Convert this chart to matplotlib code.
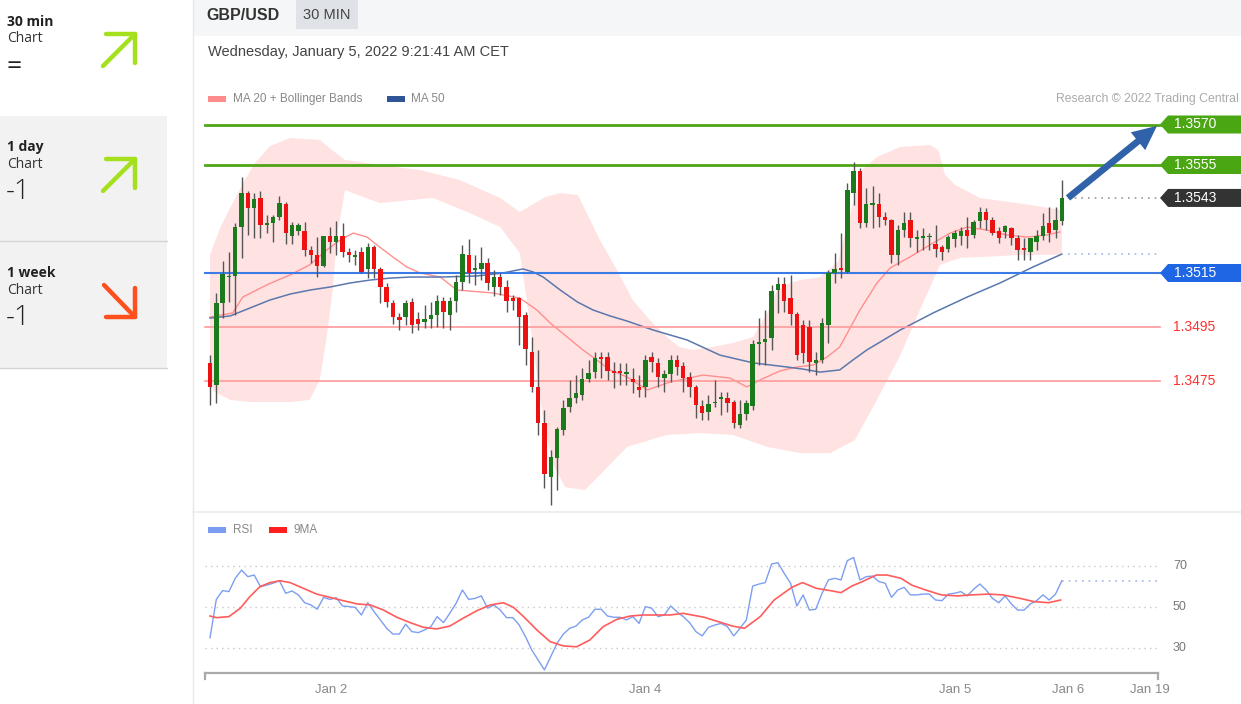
import numpy as np
import matplotlib.pyplot as plt
from matplotlib.patches import Polygon, Rectangle

plt.rcParams['font.family'] = ['Liberation Sans', 'DejaVu Sans']

W, H = 1241, 704
X0, PX = 210, 6.31   # pixel x of first candle, pixels per 30-min candle

# ---- GBP/USD 30 min candles ----
opens = [1.34817, 1.34735, 1.35039, 1.35135, 1.35139, 1.35320, 1.35446, 1.35391, 1.35428, 1.35328,
         1.35335, 1.35357, 1.35406, 1.35287, 1.35306, 1.35306, 1.35235, 1.35217, 1.35176, 1.35287,
         1.35265, 1.35287, 1.35228, 1.35209, 1.35228, 1.35165, 1.35246, 1.35165, 1.35098, 1.35039,
         1.34987, 1.34987, 1.35043, 1.34980, 1.34969, 1.34980, 1.34994, 1.35046, 1.34994, 1.35046,
         1.35117, 1.35217, 1.35161, 1.35165, 1.35187, 1.35098, 1.35135, 1.35098, 1.35057, 1.35057,
         1.34994, 1.34857, 1.34728, 1.34594, 1.34394, 1.34465, 1.34569, 1.34654, 1.34687, 1.34698,
         1.34757, 1.34783, 1.34839, 1.34839, 1.34787, 1.34787, 1.34776, 1.34757, 1.34728, 1.34728,
         1.34839, 1.34817, 1.34761, 1.34776, 1.34828, 1.34806, 1.34765, 1.34728, 1.34657, 1.34635,
         1.34669, 1.34683, 1.34687, 1.34672, 1.34587, 1.34628, 1.34657, 1.34887, 1.34894, 1.34909,
         1.35087, 1.35109, 1.35057, 1.34998, 1.34957, 1.34950, 1.34817, 1.34828, 1.34957, 1.35150,
         1.35169, 1.35154, 1.35446, 1.35528, 1.35335, 1.35402, 1.35406, 1.35357, 1.35346, 1.35217,
         1.35309, 1.35346, 1.35276, 1.35280, 1.35283, 1.35257, 1.35246, 1.35239, 1.35276, 1.35287,
         1.35309, 1.35291, 1.35343, 1.35376, 1.35346, 1.35306, 1.35302, 1.35317, 1.35280, 1.35243,
         1.35228, 1.35265, 1.35287, 1.35335, 1.35309, 1.35343]
highs = [1.34846, 1.35076, 1.35194, 1.35228, 1.35335, 1.35506, 1.35454, 1.35446, 1.35454, 1.35365,
         1.35365, 1.35435, 1.35413, 1.35339, 1.35335, 1.35339, 1.35250, 1.35283, 1.35287, 1.35320,
         1.35343, 1.35335, 1.35243, 1.35235, 1.35246, 1.35261, 1.35254, 1.35172, 1.35113, 1.35050,
         1.35002, 1.35050, 1.35057, 1.35006, 1.35031, 1.35043, 1.35069, 1.35061, 1.35061, 1.35143,
         1.35254, 1.35276, 1.35217, 1.35246, 1.35206, 1.35161, 1.35150, 1.35124, 1.35069, 1.35061,
         1.35006, 1.34913, 1.34865, 1.34643, 1.34494, 1.34580, 1.34680, 1.34754, 1.34772, 1.34798,
         1.34828, 1.34857, 1.34857, 1.34857, 1.34820, 1.34817, 1.34817, 1.34798, 1.34772, 1.34846,
         1.34857, 1.34835, 1.34791, 1.34846, 1.34846, 1.34820, 1.34783, 1.34735, 1.34680, 1.34698,
         1.34754, 1.34709, 1.34709, 1.34680, 1.34680, 1.34680, 1.34902, 1.34983, 1.35013, 1.35106,
         1.35135, 1.35135, 1.35143, 1.35006, 1.34976, 1.34976, 1.34857, 1.34983, 1.35161, 1.35224,
         1.35298, 1.35483, 1.35561, 1.35539, 1.35465, 1.35472, 1.35446, 1.35376, 1.35350, 1.35328,
         1.35376, 1.35376, 1.35309, 1.35317, 1.35298, 1.35328, 1.35254, 1.35291, 1.35309, 1.35320,
         1.35357, 1.35346, 1.35394, 1.35391, 1.35357, 1.35320, 1.35328, 1.35320, 1.35291, 1.35280,
         1.35280, 1.35309, 1.35372, 1.35394, 1.35394, 1.35494]
lows = [1.34661, 1.34669, 1.34983, 1.35043, 1.34994, 1.35206, 1.35291, 1.35280, 1.35280, 1.35298,
        1.35265, 1.35346, 1.35257, 1.35257, 1.35291, 1.35213, 1.35187, 1.35135, 1.35172, 1.35224,
        1.35217, 1.35209, 1.35191, 1.35180, 1.35150, 1.35131, 1.35131, 1.35039, 1.35024, 1.34961,
        1.34939, 1.34957, 1.34928, 1.34939, 1.34946, 1.34946, 1.34950, 1.34946, 1.34939, 1.35006,
        1.35087, 1.35113, 1.35106, 1.35124, 1.35087, 1.35065, 1.35069, 1.35006, 1.35013, 1.34883,
        1.34809, 1.34709, 1.34550, 1.34354, 1.34291, 1.34346, 1.34550, 1.34635, 1.34669, 1.34680,
        1.34746, 1.34761, 1.34761, 1.34754, 1.34724, 1.34735, 1.34735, 1.34706, 1.34691, 1.34691,
        1.34783, 1.34728, 1.34709, 1.34746, 1.34772, 1.34709, 1.34691, 1.34613, 1.34606, 1.34606,
        1.34654, 1.34624, 1.34635, 1.34576, 1.34576, 1.34606, 1.34643, 1.34809, 1.34809, 1.34865,
        1.35002, 1.35006, 1.34957, 1.34828, 1.34817, 1.34783, 1.34772, 1.34817, 1.34891, 1.35113,
        1.35131, 1.35150, 1.35402, 1.35317, 1.35320, 1.35317, 1.35320, 1.35328, 1.35187, 1.35180,
        1.35283, 1.35246, 1.35228, 1.35235, 1.35235, 1.35209, 1.35198, 1.35228, 1.35246, 1.35254,
        1.35243, 1.35280, 1.35317, 1.35309, 1.35291, 1.35261, 1.35280, 1.35254, 1.35198, 1.35198,
        1.35198, 1.35235, 1.35272, 1.35265, 1.35280, 1.35328]
closes = [1.34728, 1.35039, 1.35146, 1.35139, 1.35320, 1.35446, 1.35391, 1.35424, 1.35328, 1.35335,
          1.35357, 1.35409, 1.35298, 1.35328, 1.35328, 1.35235, 1.35217, 1.35176, 1.35287, 1.35265,
          1.35287, 1.35228, 1.35217, 1.35217, 1.35154, 1.35246, 1.35165, 1.35098, 1.35043, 1.34987,
          1.34976, 1.35039, 1.34957, 1.34961, 1.34980, 1.34994, 1.35046, 1.35006, 1.35046, 1.35117,
          1.35220, 1.35150, 1.35169, 1.35187, 1.35113, 1.35135, 1.35098, 1.35046, 1.35046, 1.34987,
          1.34869, 1.34728, 1.34594, 1.34406, 1.34469, 1.34572, 1.34650, 1.34687, 1.34706, 1.34757,
          1.34780, 1.34835, 1.34831, 1.34787, 1.34780, 1.34780, 1.34783, 1.34746, 1.34717, 1.34828,
          1.34820, 1.34765, 1.34776, 1.34828, 1.34802, 1.34761, 1.34728, 1.34661, 1.34631, 1.34665,
          1.34672, 1.34691, 1.34669, 1.34594, 1.34628, 1.34669, 1.34887, 1.34894, 1.34906, 1.35083,
          1.35109, 1.35046, 1.34998, 1.34846, 1.34854, 1.34820, 1.34828, 1.34965, 1.35150, 1.35165,
          1.35161, 1.35457, 1.35528, 1.35335, 1.35406, 1.35409, 1.35357, 1.35346, 1.35217, 1.35309,
          1.35335, 1.35280, 1.35283, 1.35287, 1.35287, 1.35239, 1.35228, 1.35283, 1.35298, 1.35306,
          1.35287, 1.35339, 1.35376, 1.35346, 1.35298, 1.35280, 1.35324, 1.35280, 1.35235, 1.35235,
          1.35280, 1.35287, 1.35324, 1.35298, 1.35346, 1.35428]

# moving averages (candle index, price)
ma20_x = [0, 3.6, 5.2, 9.0, 12.7, 15.8, 18.5, 20.6, 22.7, 24.9, 26.9, 29.0, 31.2, 33.3, 36.5, 39.1,
          44.8, 49.1, 51.8, 53.9, 56.6, 59.1, 61.3, 63.4, 66.1, 69.3, 72.9, 78.1, 82.4, 85.1, 87.2,
          90.3, 93.0, 95.6, 97.8, 99.8, 103.0, 105.7, 107.8, 110.9, 114.1, 117.3, 120.0, 123.1, 126.3,
          129.5, 132.6, 134.7]
ma20 = [1.34987, 1.35002, 1.35061, 1.35106, 1.35143, 1.35180, 1.35235, 1.35272, 1.35298, 1.35283,
        1.35246, 1.35209, 1.35172, 1.35150, 1.35135, 1.35087, 1.35076, 1.35057, 1.35013, 1.34965,
        1.34913, 1.34865, 1.34828, 1.34791, 1.34765, 1.34717, 1.34746, 1.34772, 1.34761, 1.34728,
        1.34754, 1.34787, 1.34802, 1.34809, 1.34839, 1.34876, 1.35013, 1.35113, 1.35169, 1.35209,
        1.35254, 1.35298, 1.35320, 1.35309, 1.35291, 1.35283, 1.35291, 1.35302]
ma50_x = [0, 3.2, 6.3, 9.5, 12.7, 15.9, 19.0, 22.2, 25.4, 28.5, 31.7, 36.5, 42.3, 46.4, 49.6, 51.2,
          52.8, 55.5, 58.2, 60.7, 63.4, 66.1, 70.2, 75.6, 80.8, 86.1, 91.4, 94.0, 96.7, 99.8, 101.9,
          104.1, 109.4, 114.6, 120.0, 125.2, 130.4, 135.0]
ma50 = [1.34983, 1.34991, 1.35020, 1.35050, 1.35072, 1.35087, 1.35098, 1.35113, 1.35124, 1.35131,
        1.35135, 1.35135, 1.35139, 1.35150, 1.35165, 1.35154, 1.35135, 1.35087, 1.35043, 1.35013,
        1.34991, 1.34972, 1.34939, 1.34902, 1.34846, 1.34817, 1.34802, 1.34794, 1.34783, 1.34791,
        1.34828, 1.34865, 1.34939, 1.35002, 1.35061, 1.35113, 1.35172, 1.35220]

# shaded Bollinger envelope as drawn: top and bottom outline
band_top_x = [0.0, 1.6, 3.6, 5.5, 7.1, 9.5, 12.7, 17.4, 19.3, 21.4, 26.9, 33.3, 39.6, 46.0, 49.1,
              51.5, 53.1, 55.5, 58.3, 59.7, 61.8, 64.5, 67.0, 69.7, 72.4, 74.4, 76.5, 79.7, 82.9,
              86.1, 88.3, 89.9, 91.9, 93.5, 96.7, 99.5, 101.4, 103.3, 105.7, 109.4, 114.1, 115.4,
              116.5, 118.1, 122.0, 130.0, 135.0]
band_top = [1.35217, 1.35317, 1.35409, 1.35494, 1.35557, 1.35620, 1.35650, 1.35643, 1.35606, 1.35569,
            1.35550, 1.35531, 1.35494, 1.35428, 1.35376, 1.35409, 1.35431, 1.35446, 1.35439, 1.35372,
            1.35272, 1.35161, 1.35050, 1.34976, 1.34913, 1.34876, 1.34865, 1.34876, 1.34891, 1.34913,
            1.35002, 1.35087, 1.35113, 1.35124, 1.35135, 1.35191, 1.35365, 1.35531, 1.35580, 1.35617,
            1.35624, 1.35606, 1.35513, 1.35476, 1.35428, 1.35402, 1.35383]
band_bot_x = [0.0, 0.8, 3.2, 6.3, 12.7, 15.8, 17.4, 18.5, 19.5, 20.1, 21.4, 26.9, 35.3, 41.2, 46.0,
              49.1, 50.2, 51.5, 52.8, 54.4, 56.3, 59.4, 61.8, 66.1, 72.4, 77.7, 82.9, 88.3, 93.5,
              98.3, 102.2, 105.7, 109.4, 112.5, 115.7, 118.9, 122.0, 128.4, 135.0]
band_bot = [1.34735, 1.34709, 1.34680, 1.34672, 1.34672, 1.34680, 1.34754, 1.34913, 1.35098, 1.35283,
            1.35457, 1.35409, 1.35428, 1.35372, 1.35320, 1.35224, 1.35050, 1.34828, 1.34606, 1.34439,
            1.34357, 1.34346, 1.34402, 1.34506, 1.34550, 1.34557, 1.34550, 1.34506, 1.34483, 1.34483,
            1.34531, 1.34680, 1.34846, 1.35013, 1.35180, 1.35206, 1.35209, 1.35217, 1.35217]

# RSI (one value per candle) and its 9-period MA
rsi = [35.0, 53.7, 58.0, 57.5, 64.0, 68.0, 64.8, 65.6, 59.9, 60.7, 61.6, 62.8, 56.7, 57.8, 55.9, 52.1,
       51.0, 48.9, 54.7, 53.7, 54.5, 50.5, 50.2, 49.8, 46.1, 52.1, 47.7, 43.7, 39.6, 36.8, 36.8, 41.6,
       38.0, 37.5, 38.8, 40.4, 45.3, 42.4, 46.9, 51.8, 58.3, 53.7, 54.2, 55.4, 49.4, 51.0, 48.5, 44.8,
       44.8, 41.2, 35.5, 29.0, 24.1, 19.3, 25.8, 32.3, 36.8, 39.6, 40.7, 43.7, 45.0, 48.9, 48.9, 45.6,
       45.0, 45.0, 43.7, 45.3, 42.0, 50.2, 49.4, 45.3, 46.1, 50.5, 47.7, 45.3, 42.4, 38.0, 35.9, 40.1,
       41.2, 42.0, 40.4, 35.9, 39.6, 43.7, 60.2, 61.2, 61.9, 71.0, 71.6, 66.4, 61.6, 50.5, 55.9, 48.5,
       48.9, 56.7, 63.2, 64.0, 63.2, 72.6, 74.2, 63.2, 64.8, 65.1, 62.4, 61.6, 54.7, 58.3, 59.6, 55.9,
       55.9, 56.3, 56.3, 53.4, 53.1, 56.3, 56.7, 57.5, 55.4, 58.6, 61.2, 58.3, 54.2, 52.1, 55.4, 51.5,
       48.5, 48.5, 51.5, 53.1, 55.9, 53.4, 56.3, 62.8]
ma9_x = [0, 1, 3, 4.8, 6.3, 7.9, 9.5, 11.1, 12.7, 14.8, 16.9, 19.0, 21.1, 23.3, 25.4, 27.5, 29.6, 31.7,
         33.8, 35.9, 38.0, 40.1, 42.3, 44.4, 46.5, 48.1, 49.7, 51.8, 53.9, 56.0, 58.1, 60.2, 62.3,
         64.5, 66.6, 68.7, 70.8, 72.9, 75.0, 78.3, 80.5, 82.8, 84.7, 87.2, 89.4, 92.2, 93.9, 96.1,
         98.3, 100.0, 101.7, 103.4, 105.6, 107.3, 109.5, 111.2, 113.4, 115.9, 118.4, 120.6, 123.4,
         125.6, 128.4, 130.6, 132.9, 134.8]
ma9 = [45.6, 44.8, 45.3, 49.4, 55.0, 59.9, 61.9, 62.8, 61.9, 59.1, 56.3, 54.7, 53.1, 51.5, 51.0, 48.5,
       45.0, 42.4, 40.1, 39.3, 40.7, 44.5, 48.2, 51.0, 52.1, 49.8, 45.3, 38.8, 33.1, 31.0, 30.6, 33.9,
       40.4, 44.0, 45.6, 46.1, 46.1, 46.1, 46.9, 45.0, 42.9, 40.7, 39.6, 45.3, 53.4, 59.6, 61.9, 59.1,
       58.0, 57.0, 60.2, 62.4, 65.6, 65.6, 64.0, 60.7, 58.3, 55.9, 55.4, 55.9, 56.3, 55.9, 54.2, 52.6,
       52.1, 53.4]

res_levels = [1.3570, 1.3555]
pivot_level = 1.3515
sup_levels = [1.3495, 1.3475]
rsi_grid = [70, 50, 30]
date_ticks = [19.2, 68.9, 118.1, 136.0, 149.0]
date_labels = ['Jan 2', 'Jan 4', 'Jan 5', 'Jan 6', 'Jan 19']


def ix(px):
    # page pixel x -> candle index
    return (px - X0) / PX


fig = plt.figure(figsize=(W / 100, H / 100), dpi=100)
fig.patch.set_facecolor('white')

# ---- page chrome in pixel coordinates ----
bg = fig.add_axes([0, 0, 1, 1])
bg.set_xlim(0, W)
bg.set_ylim(H, 0)
bg.axis('off')
bg.add_patch(Rectangle((0, 116), 167, 252, color='#f2f2f2', lw=0))
bg.plot([0, 167], [241, 241], color='#d4d4d4', lw=1)
bg.plot([0, 167], [368, 368], color='#d4d4d4', lw=1)
bg.plot([193, 193], [0, H], color='#e8e8e8', lw=1)
bg.add_patch(Rectangle((193, 0), W - 193, 36, color='#f5f6f7', lw=0))
bg.add_patch(Rectangle((296, 0), 62, 29, color='#dfe2e6', lw=0))
bg.plot([193, W], [512, 512], color='#eeeeee', lw=1.5)

side = ['Open Sans', 'DejaVu Sans']
for y0, name, score, col, up in [(22, '30 min', '=', '#a5e01c', True),
                                 (147, '1 day', '-1', '#a5e01c', True),
                                 (273, '1 week', '-1', '#ff4f1f', False)]:
    bg.text(7, y0, name, family=side, fontsize=10, fontweight='bold', color='#222', va='center')
    bg.text(7, y0 + 17, 'Chart', family=side, fontsize=10, color='#333', va='center')
    if score == '=':
        bg.text(7, y0 + 46, score, family=side, fontsize=19, color='#222', va='center')
    else:
        bg.text(6, y0 + 45, score, family=side, fontsize=20, color='#222', va='center',
                fontweight='light')
    top = y0 + 11
    if up:
        bg.plot([103, 135], [top + 33, top + 1], color=col, lw=3.2, solid_capstyle='round')
        bg.plot([106, 135, 135], [top + 1, top + 1, top + 30], color=col, lw=3.2,
                solid_capstyle='round', solid_joinstyle='round')
    else:
        bg.plot([104, 135], [top + 1, top + 33], color=col, lw=3.2, solid_capstyle='round')
        bg.plot([106, 135, 135], [top + 33, top + 33, top + 4], color=col, lw=3.2,
                solid_capstyle='round', solid_joinstyle='round')

bg.text(206, 15, 'GBP/USD', fontsize=11.5, fontweight='bold', color='#333', va='center')
bg.text(327, 15, '30 MIN', fontsize=10.5, color='#444', va='center', ha='center')
bg.text(208, 52, 'Wednesday, January 5, 2022 9:21:41 AM CET', fontsize=10.5, color='#444', va='center')
bg.add_patch(Rectangle((208, 96), 18, 6, color='#ff8c8c', lw=0))
bg.text(233, 99, 'MA 20 + Bollinger Bands', fontsize=8.5, color='#888', va='center')
bg.add_patch(Rectangle((387, 96), 18, 6, color='#2f5597', lw=0))
bg.text(411, 99, 'MA 50', fontsize=8.5, color='#888', va='center')
bg.text(1239, 99, 'Research \u00a9 2022 Trading Central', fontsize=8.8, color='#aaa',
        va='center', ha='right')
bg.add_patch(Rectangle((208, 527), 18, 6, color='#7b9cf0', lw=0))
bg.text(233, 530, 'RSI', fontsize=8.5, color='#888', va='center')
bg.add_patch(Rectangle((269, 527), 18, 6, color='#ff1f1f', lw=0))
bg.text(294, 530, '9MA', fontsize=8.5, color='#888', va='center')

# ---- price panel ----
ax = fig.add_axes([193 / W, 1 - 510 / H, (W - 193) / W, 474 / H])
ax.set_xlim(ix(193), ix(W))
ax.set_ylim(1.3515 - 237 / 27000, 1.3515 + 237 / 27000)
ax.axis('off')

ax.fill(np.r_[band_top_x, band_bot_x[::-1]], np.r_[band_top, band_bot[::-1]],
        color='#ffe2e2', lw=0, zorder=0)
ax.plot(ma20_x, ma20, color='#ff8f8f', lw=1.0, zorder=1)
ax.plot(ma50_x, ma50, color='#5a78ad', lw=1.1, zorder=1)

xs = np.arange(len(opens))
o, hi, lo, c = map(np.array, (opens, highs, lows, closes))
up = c >= o
ax.vlines(xs, lo, hi, color='#555555', lw=1.0, zorder=2)
body = np.maximum(np.abs(c - o), 0.00004)
ax.bar(xs, body, bottom=np.minimum(o, c), width=0.7,
       color=np.where(up, '#1b7a1b', '#ee1111'), zorder=3)

x_l, x_r = ix(205), ix(1160)
for lv in res_levels:
    ax.plot([x_l, x_r], [lv, lv], color='#4fa514', lw=2.0, zorder=1)
ax.plot([x_l, x_r], [pivot_level, pivot_level], color='#3b7be6', lw=1.5, zorder=1)
for lv in sup_levels:
    ax.plot([x_l, x_r], [lv, lv], color='#ff9a9a', lw=1.2, zorder=1)
    ax.text(ix(1173), lv, f'{lv:.4f}', color='#ff3030', fontsize=10, va='center')

last = closes[-1]
ax.plot([ix(1068), x_r], [last, last], color='#999999', lw=1.2, ls=(0, (1, 3)))
ax.plot([ix(1068), ix(1158)], [ma50[-1], ma50[-1]], color='#9fb4e8', lw=1.2, ls=(0, (1, 3)))

hh = 9 / 27000
for lv, col, txt in [(res_levels[0], '#4ba614', '1.3570'), (res_levels[1], '#4ba614', '1.3555'),
                     (last, '#333333', '1.3543'), (pivot_level, '#1f66e5', '1.3515')]:
    ax.add_patch(Polygon([(ix(1160), lv), (ix(1168), lv + hh), (ix(W + 2), lv + hh),
                          (ix(W + 2), lv - hh), (ix(1168), lv - hh)], closed=True, color=col, lw=0))
    ax.text(ix(1174), lv, txt, color='white', fontsize=10, va='center')

ax.annotate('', xy=(ix(1157), 1.35695), xytext=(ix(1068), last),
            arrowprops=dict(arrowstyle='simple,head_length=0.8,head_width=0.75,tail_width=0.22',
                            color='#2f62a8', lw=0, mutation_scale=22, shrinkA=0, shrinkB=0))

# ---- RSI panel ----
ar = fig.add_axes([193 / W, 0, (W - 193) / W, (H - 515) / H])
ar.set_xlim(ix(193), ix(W))
ar.set_ylim(50 - 97 * 20 / 41, 50 + 92 * 20 / 41)
ar.axis('off')
for v in rsi_grid:
    ar.plot([ix(205), ix(1158)], [v, v], color='#c8c8c8', lw=1, ls=(0, (1, 3)))
    ar.text(ix(1173), v, str(v), color='#777', fontsize=9, va='center')
ar.plot(xs, rsi, color='#7d9ef0', lw=1.0)
ar.plot(ma9_x, ma9, color='#ff5c5c', lw=1.2)
ar.plot([xs[-1], ix(1158)], [rsi[-1], rsi[-1]], color='#9fb4e8', lw=1.2, ls=(0, (1, 3)))

ybase = 50 - 66 * 20 / 41
ar.plot([ix(205), ix(1158)], [ybase, ybase], color='#aaaaaa', lw=1.6)
for px in (205, 1158):
    ar.plot([ix(px), ix(px)], [ybase, ybase - 3], color='#aaaaaa', lw=1.6)
for t, lab in zip(date_ticks, date_labels):
    ar.text(t, 50 - 83 * 20 / 41, lab, color='#888', fontsize=9.5, ha='center', va='center')

fig.savefig('out.png', dpi=100)
